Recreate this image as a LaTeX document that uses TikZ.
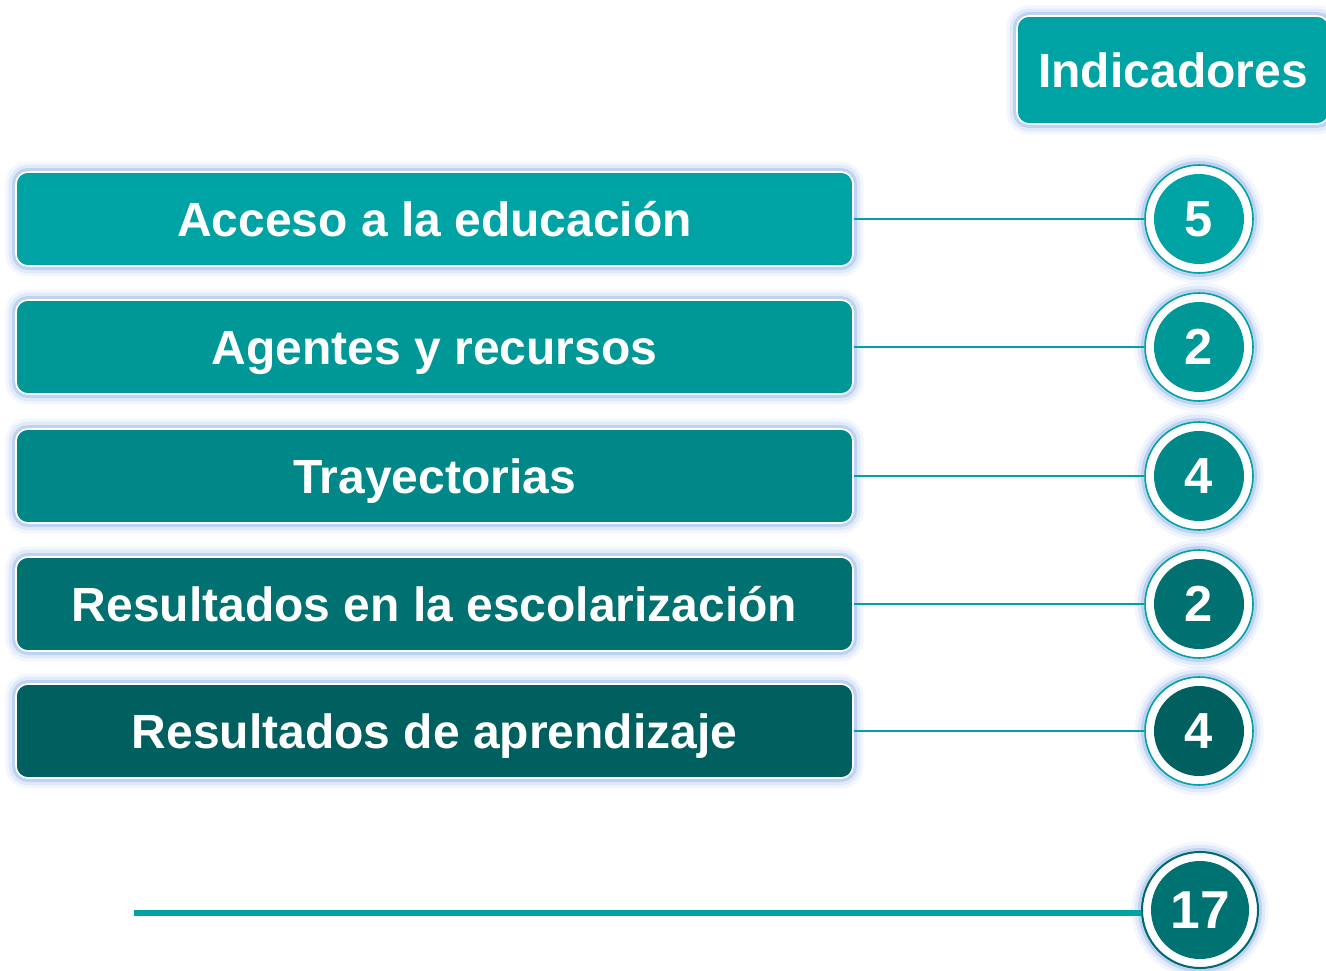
\documentclass[tikz,border=0pt]{standalone}
\usepackage{fontspec}
\setmainfont{Liberation Sans}
\definecolor{cA}{HTML}{00A3A3}
\definecolor{cB}{HTML}{009797}
\definecolor{cC}{HTML}{008888}
\definecolor{cD}{HTML}{007070}
\definecolor{cE}{HTML}{006060}
\definecolor{cF}{HTML}{007272}
\definecolor{ringdark}{HTML}{006A6A}
\definecolor{glowc}{HTML}{8AB0EA}
\tikzset{
  glow/.style={
    preaction={draw=glowc,line width=16pt,opacity=.10},
    preaction={draw=glowc,line width=11pt,opacity=.18},
    preaction={draw=glowc,line width=6pt,opacity=.4}},
  catbox/.style={glow, rectangle, rounded corners=9pt, draw=white, line width=1.2pt,
    minimum width=837*0.75pt, minimum height=94*0.75pt, text=white,
    text height=25.8pt, text depth=0pt,
    font=\bfseries\fontsize{36}{38}\selectfont},
  headbox/.style={glow, rectangle, rounded corners=9pt, draw=white, line width=1.2pt, fill=cA,
    minimum width=312*0.75pt, minimum height=108*0.75pt, text=white,
    text height=25.8pt, text depth=0pt,
    font=\bfseries\fontsize{36}{38}\selectfont},
  ring/.style={glow, circle, fill=white, draw=cA, line width=1.2pt, minimum size=108*0.75pt, inner sep=0pt},
  bigring/.style={glow, circle, fill=white, draw=ringdark, line width=1.5pt, minimum size=116*0.75pt, inner sep=0pt},
  disc/.style={circle, minimum size=90*0.75pt, inner sep=0pt, text=white,
    font=\bfseries\fontsize{38}{40}\selectfont},
  bigdisc/.style={circle, minimum size=98*0.75pt, inner sep=0pt, text=white,
    font=\bfseries\fontsize{40}{42}\selectfont},
  link/.style={draw=cA, line width=1.3pt},
  total/.style={draw=cA, line width=4pt}
}
\begin{document}
\begin{tikzpicture}[x=0.75pt,y=-0.75pt]
\useasboundingbox (0,0) rectangle (1326,970);
% header
\node[headbox] (head) at (1173,70) {Indicadores};
% categories
\node[catbox, fill=cA] (b1) at (434.5,219) {Acceso a la educación};
\node[catbox, fill=cB] (b2) at (434.5,347) {Agentes y recursos};
\node[catbox, fill=cC] (b3) at (434.5,476) {Trayectorias};
\node[catbox, fill=cD] (b4) at (434.5,604) {Resultados en la escolarización};
\node[catbox, fill=cE] (b5) at (434.5,731) {Resultados de aprendizaje};
% rings
\node[ring] (r1) at (1199,219) {};
\node[ring] (r2) at (1199,347) {};
\node[ring] (r3) at (1199,476) {};
\node[ring] (r4) at (1199,604) {};
\node[ring] (r5) at (1199,731) {};
\node[bigring] (r6) at (1200,910) {};
\node[disc, fill=cA] (n1) at (r1) {5};
\node[disc, fill=cB] (n2) at (r2) {2};
\node[disc, fill=cC] (n3) at (r3) {4};
\node[disc, fill=cD] (n4) at (r4) {2};
\node[disc, fill=cE] (n5) at (r5) {4};
\node[bigdisc, fill=cF] (n6) at (r6) {17};
% connectors
\draw[link] (b1.east) -- (r1.west);
\draw[link] (b2.east) -- (r2.west);
\draw[link] (b3.east) -- (r3.west);
\draw[link] (b4.east) -- (r4.west);
\draw[link] (b5.east) -- (r5.west);
\coordinate (tstart) at (134,913);
\draw[total] (tstart) -- (r6.west |- tstart);
\end{tikzpicture}
\end{document}
